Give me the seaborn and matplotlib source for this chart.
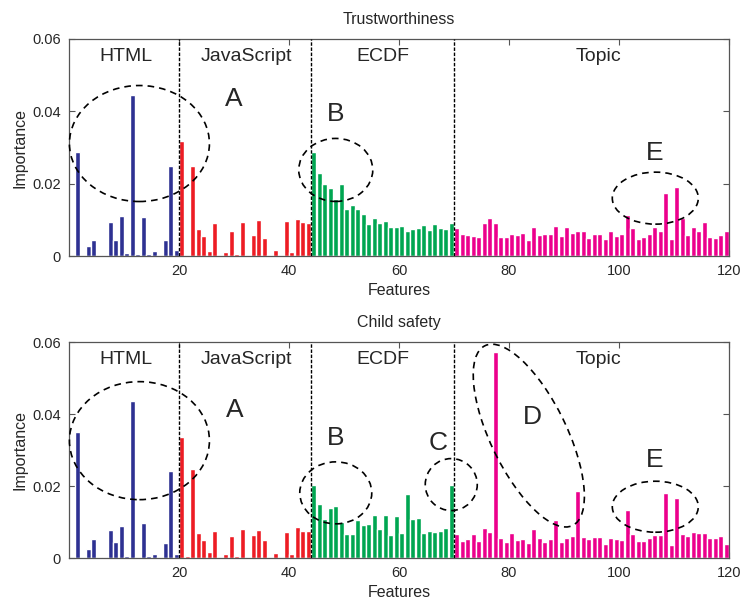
# Feature importance per feature group, two tasks (Trustworthiness / Child safety)

import pandas as pd
import matplotlib
matplotlib.use('Agg')
import matplotlib.pyplot as plt
import matplotlib.transforms as mtransforms
from matplotlib.patches import Ellipse
import seaborn as sns

sns.set_style('ticks')
plt.rcParams['font.family'] = ['Liberation Sans', 'DejaVu Sans']

# feature groups
groups = ['HTML', 'JavaScript', 'ECDF', 'Topic']
groupSizes = [20, 24, 26, 50]
groupColors = {'HTML': '#2e3192', 'JavaScript': '#ed1c24', 'ECDF': '#00a651', 'Topic': '#ec008c'}

# importance values, feature 1..120
trustHTML = [0, 0.0288, 0, 0.0029, 0.0045, 0, 0.0003, 0.0095, 0.0044, 0.0111,
             0.0007, 0.0444, 0.0006, 0.0107, 0.0006, 0.0013, 0.0003, 0.0044, 0.0249, 0.0016]
trustJS = [0.0318, 0.0004, 0.025, 0.0076, 0.0056, 0.0014, 0.0092, 0, 0.001, 0.0069,
           0.0006, 0.0094, 0, 0.0059, 0.01, 0.005, 0.0002, 0.0017, 0, 0.0097,
           0.0012, 0.0102, 0.0095, 0.0092]
trustECDF = [0.0288, 0.0229, 0.02, 0.0187, 0.0158, 0.0199, 0.0131, 0.014, 0.0131, 0.0115,
             0.0089, 0.0106, 0.009, 0.0097, 0.008, 0.0081, 0.0083, 0.0069, 0.0076, 0.0078,
             0.0086, 0.0072, 0.0088, 0.0078, 0.0076, 0.0092]
trustTopic = [0.0077, 0.0061, 0.0059, 0.0056, 0.0052, 0.0092, 0.0106, 0.009, 0.0052, 0.0052,
              0.0061, 0.0057, 0.0064, 0.0044, 0.0079, 0.0059, 0.0061, 0.0061, 0.0083, 0.0054,
              0.008, 0.0064, 0.0068, 0.007, 0.005, 0.0062, 0.0062, 0.0046, 0.007, 0.0055,
              0.0062, 0.0114, 0.0078, 0.0048, 0.0053, 0.0062, 0.0081, 0.0068, 0.0175, 0.0048,
              0.019, 0.0105, 0.0059, 0.008, 0.007, 0.0093, 0.0053, 0.005, 0.0059, 0.0069]

childHTML = [0, 0.0351, 0, 0.0024, 0.0054, 0, 0.0002, 0.0078, 0.0044, 0.009,
             0.0006, 0.0437, 0.0004, 0.0097, 0.0006, 0.0012, 0.0002, 0.0042, 0.0243, 0.0011]
childJS = [0.0336, 0.0005, 0.0246, 0.007, 0.0049, 0.0017, 0.0074, 0, 0.001, 0.0061,
           0.0006, 0.008, 0, 0.0064, 0.0079, 0.0049, 0.0001, 0.0015, 0, 0.0072,
           0.0011, 0.0086, 0.0074, 0.0074]
childECDF = [0.0202, 0.015, 0.0108, 0.0139, 0.0144, 0.0099, 0.0066, 0.0067, 0.0106, 0.0091,
             0.0094, 0.012, 0.0081, 0.012, 0.0065, 0.0117, 0.0069, 0.0178, 0.0108, 0.0111,
             0.0069, 0.0076, 0.0071, 0.0075, 0.0083, 0.0204]
childTopic = [0.0066, 0.0047, 0.0052, 0.0068, 0.0046, 0.0084, 0.0071, 0.0571, 0.0056, 0.0045,
              0.007, 0.005, 0.0053, 0.0041, 0.008, 0.0057, 0.0045, 0.0053, 0.0106, 0.0044,
              0.0056, 0.0062, 0.0185, 0.0058, 0.0054, 0.0058, 0.0059, 0.0038, 0.0055, 0.0053,
              0.005, 0.0134, 0.0066, 0.0048, 0.0047, 0.0056, 0.0064, 0.0064, 0.018, 0.0037,
              0.0167, 0.0066, 0.0062, 0.0073, 0.007, 0.007, 0.0055, 0.0055, 0.0062, 0.0039]

xTicks = [20, 40, 60, 80, 100, 120]
yTicks = [0, 0.02, 0.04, 0.06]
yTickLabels = ['0', '0.02', '0.04', '0.06']

# annotations: group label x positions, separators, marker letters and ellipses
groupLabelX = [10.4, 32.3, 57.1, 96.2]
separators = [20, 44, 70]
trustLetters = [('A', 30.0, 0.0433), ('B', 48.4, 0.0392), ('E', 106.4, 0.0285)]
childLetters = [('A', 30.2, 0.0411), ('B', 48.4, 0.0333), ('C', 67.1, 0.0319),
                ('D', 84.2, 0.0393), ('E', 106.4, 0.0272)]
# (x, y) centre in data units, width/height in pixels, angle in degrees
trustEllipses = [(12.8, 0.0311, 140, 116, 0), (48.5, 0.0238, 74, 63, 0), (106.6, 0.016, 86, 52, 0)]
childEllipses = [(12.8, 0.0326, 140, 118, 0), (48.5, 0.0181, 72, 62, 0), (69.5, 0.0204, 52, 52, 0),
                 (83.6, 0.0340, 200, 76, -64), (106.6, 0.01425, 86, 51, 0)]

groupCol = [g for g, n in zip(groups, groupSizes) for _ in range(n)]
df = pd.DataFrame({
    'feature': range(1, 121),
    'group': groupCol,
    'trust': trustHTML + trustJS + trustECDF + trustTopic,
    'child': childHTML + childJS + childECDF + childTopic,
})
df['pos'] = df['feature'] - 0.5

fig = plt.figure(figsize=(7.47, 6.08), dpi=100)
ax1 = fig.add_axes([0.0924, 0.5789, 0.8835, 0.3570])
ax2 = fig.add_axes([0.0924, 0.0822, 0.8835, 0.3553])


def draw_panel(ax, col, title, letters, ellipses):
    sns.barplot(data=df, x='pos', y=col, hue='group', palette=groupColors, native_scale=True,
                dodge=False, width=0.88, errorbar=None, legend=False, saturation=1, ax=ax)
    ax.set_xlim(0, 120)
    ax.set_ylim(0, 0.06)
    ax.set_xticks(xTicks)
    ax.set_xticklabels([str(t) for t in xTicks])
    ax.set_yticks(yTicks)
    ax.set_yticklabels(yTickLabels)
    ax.tick_params(direction='in', top=True, right=True, length=4, labelsize=10.5,
                   color='#555555', pad=6)
    for s in ax.spines.values():
        s.set_color('#555555')
        s.set_linewidth(0.9)
    ax.set_xlabel('Features', fontsize=11.5, labelpad=3)
    ax.set_ylabel('Importance', fontsize=11.5, labelpad=3)
    ax.set_title(title, fontsize=11.5, pad=11)

    for x in separators:
        ax.axvline(x, color='black', lw=1.0, ls=(0, (2.5, 1.2)), zorder=3)
    for name, x in zip(groups, groupLabelX):
        ax.text(x, 0.0552, name, fontsize=14, ha='center', va='center')
    for letter, x, y in letters:
        ax.text(x, y, letter, fontsize=19, ha='center', va='center')
    for cx, cy, w, h, ang in ellipses:
        tr = mtransforms.ScaledTranslation(cx, cy, ax.transData)
        ax.add_patch(Ellipse((0, 0), w, h, angle=ang, transform=tr, fill=False,
                             edgecolor='black', lw=1.2, ls=(0, (4, 3)), zorder=4,
                             clip_on=False))


draw_panel(ax1, 'trust', 'Trustworthiness', trustLetters, trustEllipses)
draw_panel(ax2, 'child', 'Child safety', childLetters, childEllipses)

fig.savefig('out.png', dpi=100)
